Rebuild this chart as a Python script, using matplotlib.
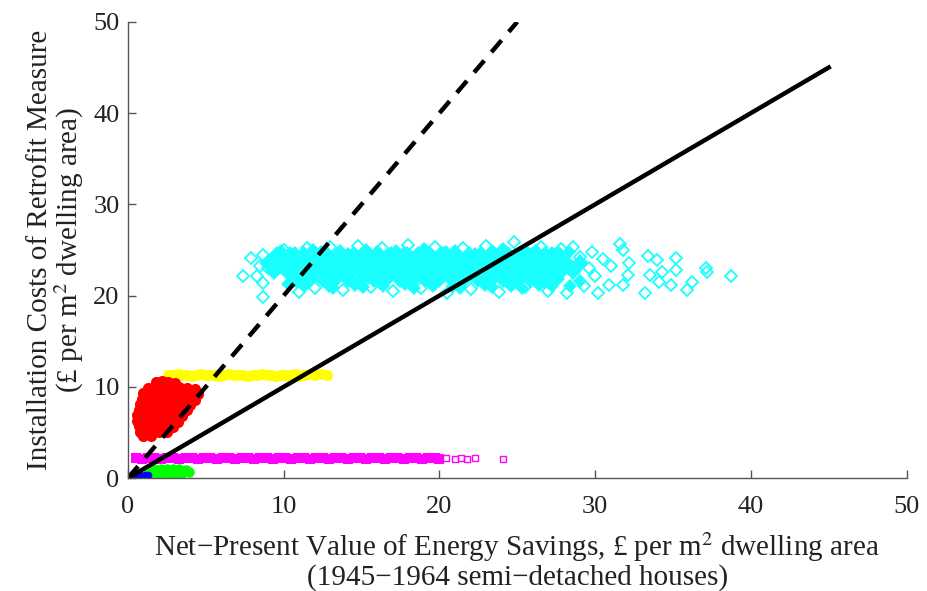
import matplotlib
matplotlib.use("Agg")
import matplotlib.pyplot as plt

plt.rcParams['font.family'] = ['Liberation Serif', 'DejaVu Serif']
plt.rcParams['mathtext.fontset'] = 'stix'

# --- data (x: NPV of savings, y: installation cost, both per m2) ---

# cyan diamonds, dense core rows
cyan_row1_x = [9.6, 10.4, 11.3, 12.0, 12.8, 13.7, 14.5, 15.2, 16.1, 16.9, 17.7, 18.6,
               19.4, 20.2, 21.0, 21.9, 22.7, 23.5, 24.4, 25.2, 26.0, 26.8, 27.7]
cyan_row2_x = [9.0, 9.9, 10.7, 11.6, 12.4, 13.2, 14.0, 14.9, 15.7, 16.5, 17.3, 18.2, 19.0,
               19.8, 20.6, 21.5, 22.3, 23.1, 23.9, 24.8, 25.6, 26.4, 27.3, 28.1, 29.0]
cyan_row3_x = [9.4, 10.2, 11.1, 11.9, 12.7, 13.6, 14.4, 15.3, 16.1, 16.9, 17.8, 18.6,
               19.4, 20.3, 21.1, 21.9, 22.7, 23.6, 24.4, 25.2, 26.1, 26.9, 27.8, 28.6]
cyan_row4_x = [10.8, 11.6, 12.5, 13.3, 14.1, 15.0, 15.8, 16.6, 17.5, 18.3, 19.1, 20.0,
               20.8, 21.6, 22.5, 23.3, 24.1, 25.0, 25.8, 26.7, 27.5]
cyan_row_y = [24.4, 23.6, 22.7, 21.8]

# cyan diamonds bulging out of the top and bottom of the core
cyan_edge_x = [9.8, 10.7, 11.9, 12.4, 13.6, 14.1, 15.3, 16.0, 17.2, 17.9, 19.0, 20.4,
               21.0, 22.3, 23.4, 24.1, 25.6, 26.2, 27.2, 28.3,
               10.3, 11.3, 12.9, 13.2, 14.6, 15.1, 16.4, 17.8, 18.4, 19.6, 20.9, 21.3,
               22.9, 23.4, 24.6, 25.3, 26.4, 27.2, 28.4, 29.0]
cyan_edge_y = [24.9, 24.7, 25.0, 24.8, 24.9, 24.6, 25.0, 24.8, 24.9, 24.7, 25.1, 24.8,
               24.9, 24.6, 24.9, 25.1, 24.8, 24.9, 24.7, 24.8,
               21.3, 21.0, 21.1, 20.8, 21.2, 20.9, 21.0, 21.3, 20.8, 21.1, 21.0, 20.8,
               21.2, 20.9, 21.1, 20.8, 21.2, 21.0, 21.1, 21.6]

# cyan diamonds, scattered ones round the cloud
cyan_out_x = [7.4, 7.9, 8.7, 8.3, 8.7, 8.7, 10.0, 11.0, 9.0, 8.5,
              11.5, 13.0, 14.8, 16.3, 18.0, 19.7, 21.5, 23.0, 24.8, 26.5, 27.8,
              12.0, 13.8, 15.6, 17.0, 18.8, 20.5, 22.0, 23.8, 25.5, 27.0, 28.2, 29.3,
              28.6, 29.0, 29.6, 30.0, 30.2, 30.9, 31.6, 31.8, 32.2, 32.1, 31.8, 33.4,
              33.5, 33.2, 34.0, 34.3, 34.1, 35.2, 35.2, 34.9, 36.2, 35.9, 37.1, 37.2,
              38.7, 30.5, 31.0, 29.8]
cyan_out_y = [22.1, 24.1, 24.5, 22.1, 21.4, 19.9, 25.0, 20.4, 23.0, 23.3,
              25.2, 25.3, 25.4, 25.2, 25.5, 25.3, 25.2, 25.4, 25.9, 25.3, 25.1,
              20.8, 20.6, 20.9, 20.5, 20.8, 20.3, 20.7, 20.4, 20.9, 20.5, 20.3, 21.0,
              25.3, 24.2, 23.0, 22.2, 20.3, 21.2, 25.7, 25.0, 23.6, 22.3, 21.2, 24.3,
              22.3, 20.3, 23.9, 22.6, 21.5, 24.1, 22.8, 21.2, 21.5, 20.6, 23.0, 22.6,
              22.1, 24.0, 23.2, 24.8]

# red cloud
red_x = [1.8, 2.2, 2.6, 3.0,
         1.3, 1.7, 2.1, 2.5, 2.9, 3.3, 3.8, 4.3,
         1.0, 1.4, 1.8, 2.3, 2.7, 3.1, 3.6, 4.0, 4.5,
         0.9, 1.3, 1.7, 2.1, 2.6, 3.0, 3.4, 3.9, 4.3,
         0.8, 1.2, 1.6, 2.0, 2.4, 2.8, 3.2, 3.6, 4.0,
         0.7, 1.1, 1.5, 1.9, 2.3, 2.7, 3.1, 3.5, 3.8,
         0.6, 1.0, 1.4, 1.8, 2.2, 2.6, 3.0, 3.5,
         0.6, 1.0, 1.4, 1.8, 2.2, 2.6, 3.2,
         0.7, 1.1, 1.5, 1.9, 2.4, 2.9,
         0.8, 1.2, 1.6, 2.0, 2.5,
         1.0, 1.5]
red_y = [10.5, 10.6, 10.5, 10.4,
         9.9, 10.0, 9.9, 10.0, 9.9, 10.0, 9.9, 9.8,
         9.3, 9.3, 9.4, 9.3, 9.3, 9.4, 9.3, 9.3, 9.2,
         8.7, 8.7, 8.7, 8.8, 8.7, 8.7, 8.8, 8.7, 8.6,
         8.1, 8.1, 8.2, 8.1, 8.1, 8.1, 8.2, 8.1, 8.0,
         7.5, 7.5, 7.5, 7.6, 7.5, 7.5, 7.4, 7.5, 7.5,
         6.9, 6.9, 6.9, 7.0, 6.9, 6.9, 6.9, 6.8,
         6.3, 6.3, 6.3, 6.3, 6.4, 6.3, 6.2,
         5.7, 5.7, 5.7, 5.8, 5.7, 5.6,
         5.1, 5.1, 5.2, 5.1, 5.1,
         4.6, 4.6]

# yellow band
yellow_x = [2.6, 2.9, 3.2, 3.5, 3.8, 4.1, 4.4, 4.7, 5.0, 5.3, 5.6, 5.9, 6.2, 6.5, 6.8,
            7.1, 7.4, 7.7, 8.0, 8.3, 8.6, 8.9, 9.2, 9.5, 9.8, 10.1, 10.4, 10.7, 11.0,
            11.3, 11.6, 12.0, 12.4, 12.8]
yellow_y = [11.3, 11.3, 11.4, 11.3, 11.3, 11.2, 11.3, 11.4, 11.3, 11.3, 11.3, 11.2,
            11.3, 11.4, 11.3, 11.3, 11.3, 11.2, 11.3, 11.3, 11.4, 11.3, 11.3, 11.2,
            11.3, 11.3, 11.3, 11.4, 11.2, 11.3, 11.4, 11.3, 11.4, 11.3]

# magenta squares
magenta_x = [0.5, 0.9, 1.3, 1.7, 2.1, 2.5, 2.9, 3.3, 3.7, 4.1, 4.5, 4.9, 5.3, 5.7,
             6.1, 6.5, 6.9, 7.3, 7.7, 8.1, 8.5, 8.9, 9.3, 9.7, 10.1, 10.5, 10.9, 11.3,
             11.7, 12.1, 12.5, 12.9, 13.3, 13.7, 14.1, 14.5, 14.9, 15.3, 15.7, 16.1,
             16.5, 16.9, 17.3, 17.7, 18.1, 18.5, 18.9, 19.3, 19.7, 20.0]
magenta_y = [2.2, 2.1, 2.2, 2.2, 2.1, 2.2, 2.2, 2.1, 2.2, 2.2, 2.1, 2.2, 2.2, 2.1,
             2.2, 2.2, 2.1, 2.2, 2.2, 2.1, 2.2, 2.2, 2.1, 2.2, 2.2, 2.1, 2.2, 2.2,
             2.1, 2.2, 2.2, 2.1, 2.2, 2.2, 2.1, 2.2, 2.2, 2.1, 2.2, 2.2,
             2.1, 2.2, 2.2, 2.1, 2.2, 2.2, 2.1, 2.2, 2.2, 2.1]
magenta_out_x = [20.45, 21.0, 21.4, 21.8, 22.3, 24.1]
magenta_out_y = [2.2, 2.1, 2.2, 2.1, 2.2, 2.1]

# green
green_x = [1.3, 1.7, 2.1, 2.5, 2.9, 3.3, 3.7, 1.5, 1.9, 2.3, 2.7, 3.1, 3.5, 3.9]
green_y = [1.0, 1.0, 1.0, 1.0, 1.0, 1.0, 0.9, 0.6, 0.6, 0.6, 0.6, 0.6, 0.6, 0.7]

# blue
blue_x = [0.2, 0.5, 0.8, 1.1, 0.35, 0.9, 1.3]
blue_y = [0.2, 0.3, 0.35, 0.3, 0.45, 0.2, 0.3]

# reference lines: cost = NPV, and cost = 2 x NPV
solid_x = [0, 45]
solid_y = [0, 45]
dashed_x = [0, 25]
dashed_y = [0, 50]

fig = plt.figure(figsize=(9.27, 5.91), dpi=100)
ax = fig.add_axes([0.138, 0.191, 0.840, 0.772])

cyan = '#19ffff'
for row_x, row_y in zip([cyan_row1_x, cyan_row2_x, cyan_row3_x, cyan_row4_x], cyan_row_y):
    ax.plot(row_x, [row_y] * len(row_x), 'D', color=cyan, ms=9, mew=0)
ax.plot(cyan_edge_x, cyan_edge_y, 'D', color=cyan, ms=7, mew=0)
ax.plot(cyan_out_x, cyan_out_y, 'D', mfc='none', mec=cyan, ms=6, mew=1.3)

ax.plot(yellow_x, yellow_y, 'o', color='#ffff00', ms=8, mew=0)
ax.plot(red_x, red_y, 'o', color='#ff0000', ms=8, mew=0)
ax.plot(magenta_x, magenta_y, 's', color='#ff00ff', ms=6.5, mew=0)
ax.plot(magenta_out_x, magenta_out_y, 's', mfc='none', mec='#ff00ff', ms=4.5, mew=1)
ax.plot(green_x, green_y, 'o', color='#00ff00', ms=7.5, mew=0)
ax.plot(blue_x, blue_y, 'o', color='#0000ff', ms=5.5, mew=0)

ax.plot(solid_x, solid_y, '-', color='black', lw=3.2)
dash, = ax.plot(dashed_x, dashed_y, '--', color='black', lw=3.2)
dash.set_dashes([3.5, 2.5])

ax.set_xlim(0, 50)
ax.set_ylim(0, 50)
ax.set_xticks([0, 10, 20, 30, 40, 50])
ax.set_yticks([0, 10, 20, 30, 40, 50])
ax.spines['top'].set_visible(False)
ax.spines['right'].set_visible(False)
for s in ['left', 'bottom']:
    ax.spines[s].set_color('#555555')
    ax.spines[s].set_linewidth(1.0)
ax.tick_params(direction='in', length=6, width=1, color='#555555',
               labelsize=19, labelcolor='#222222')
ax.tick_params(axis='x', pad=13)
ax.tick_params(axis='y', pad=6)

ax.set_xlabel('Net\u2212Present Value of Energy Savings, \u00a3 per m$^2$ dwelling area\n'
              '(1945\u22121964 semi\u2212detached houses)', fontsize=21, labelpad=9,
              linespacing=1.0, color='#222222')
ax.set_ylabel('Installation Costs of Retrofit Measure\n'
              '(\u00a3 per m$^2$ dwelling area)', fontsize=21, labelpad=5,
              linespacing=1.0, color='#222222')

fig.savefig('out.png', dpi=100)
